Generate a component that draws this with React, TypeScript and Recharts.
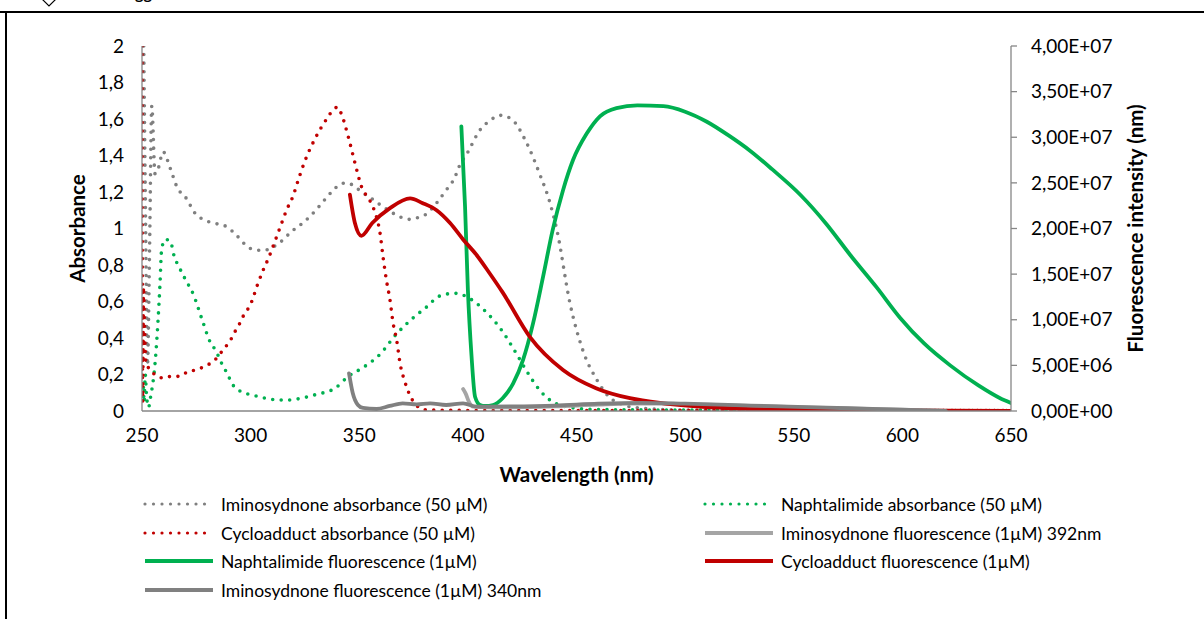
import React from 'react';
import { ComposedChart, Line, XAxis, YAxis, Label } from 'recharts';

// ---------- ticks ----------
const wavelengthTicks = [250, 300, 350, 400, 450, 500, 550, 600, 650];
const absorbanceTicks = [0, 0.2, 0.4, 0.6, 0.8, 1, 1.2, 1.4, 1.6, 1.8, 2];
const fluoTicks = [0, 5e6, 1e7, 1.5e7, 2e7, 2.5e7, 3e7, 3.5e7, 4e7];

// ---------- Iminosydnone absorbance (50 µM) ----------
const iminoAbsX = [250.8, 251.5, 252.5, 253.5, 254.5, 256, 257.5, 259.7, 263, 266, 270.7, 274, 278, 283, 289, 293.7, 300, 305.7, 312, 319.5, 325, 330, 335, 338, 341, 344, 348, 351, 355, 359.6, 363.4, 369.5, 373.4, 377, 381, 385.6, 390, 394, 396, 399.6, 405.6, 410, 415, 420, 427, 433, 437.8, 441, 447, 453, 459.4, 465, 470, 480, 500, 550, 600, 650];
const iminoAbsY = [2.0, 1.2, 0.25, 0.9, 1.67, 1.3, 1.33, 1.42, 1.33, 1.23, 1.16, 1.09, 1.05, 1.03, 1.01, 0.96, 0.89, 0.88, 0.91, 0.99, 1.04, 1.1, 1.17, 1.21, 1.24, 1.25, 1.23, 1.2, 1.17, 1.13, 1.1, 1.06, 1.05, 1.06, 1.08, 1.14, 1.21, 1.28, 1.34, 1.41, 1.54, 1.59, 1.62, 1.6, 1.47, 1.3, 1.14, 0.99, 0.59, 0.33, 0.17, 0.077, 0.04, 0.015, 0.005, 0.003, 0.002, 0.002];

// ---------- Naphtalimide absorbance (50 µM) ----------
const naphAbsX = [250, 250.5, 251, 251.5, 252, 253, 254, 256, 257.4, 258.3, 259, 260.6, 263, 265, 266.6, 270, 273.6, 277.4, 281.3, 284, 286.7, 289, 292, 295, 302, 305.7, 313.5, 317, 321, 330, 339, 345, 352, 359.5, 367, 374.8, 381, 387, 394, 397.8, 404, 409.4, 414.8, 420.8, 427, 433, 439, 443, 450, 460, 500, 550, 600, 650];
const naphAbsY = [0.08, 0.15, 0.05, 0.2, 0.1, 0.02, 0.08, 0.26, 0.5, 0.7, 0.88, 0.94, 0.93, 0.84, 0.8, 0.72, 0.64, 0.51, 0.38, 0.33, 0.26, 0.21, 0.14, 0.11, 0.084, 0.073, 0.06, 0.06, 0.065, 0.09, 0.126, 0.19, 0.24, 0.31, 0.42, 0.51, 0.57, 0.63, 0.645, 0.635, 0.59, 0.53, 0.455, 0.345, 0.22, 0.115, 0.05, 0.03, 0.015, 0.008, 0.005, 0.003, 0.002, 0.002];

// ---------- Cycloadduct absorbance (50 µM) ----------
const cycloAbsX = [250, 250.3, 250.7, 251.2, 251.8, 252.5, 253.7, 255, 257.4, 259.7, 263.6, 267.5, 271, 275, 278, 281.3, 284.4, 286.7, 289, 291.3, 292.8, 295, 296.6, 298.8, 300.5, 302.8, 305.7, 308.5, 311.2, 314, 316.5, 319.6, 321.9, 325, 330, 335, 338, 340, 342, 345, 348, 351, 355, 358, 359.5, 361, 362.6, 364, 365.6, 367.2, 368.8, 371, 374, 378, 382, 400, 450, 500, 550, 600, 650];
const cycloAbsY = [2.0, 0.05, 0.68, 0.45, 0.26, 0.24, 0.235, 0.21, 0.19, 0.18, 0.19, 0.19, 0.215, 0.225, 0.24, 0.26, 0.29, 0.325, 0.36, 0.4, 0.435, 0.48, 0.52, 0.56, 0.6, 0.68, 0.77, 0.845, 0.93, 1.02, 1.1, 1.18, 1.265, 1.37, 1.5, 1.6, 1.65, 1.665, 1.62, 1.5, 1.36, 1.23, 1.15, 1.06, 0.98, 0.84, 0.71, 0.62, 0.48, 0.39, 0.26, 0.16, 0.07, 0.016, 0.005, 0.003, 0.002, 0.002, 0.002, 0.002, 0.002];

// ---------- Iminosydnone fluorescence (1µM) 392nm ----------
const imino392X = [397.8, 399, 400.5, 402.5, 410, 420, 440, 460, 475, 490, 510, 540, 570, 600, 620];
const imino392Y = [2.4e6, 1.9e6, 1.0e6, 4.7e5, 4e5, 4e5, 5e5, 7e5, 8e5, 8e5, 7e5, 5e5, 3e5, 1.5e5, 0];

// ---------- Naphtalimide fluorescence (1µM) ----------
const naphFluoX = [397, 398.7, 400, 401.7, 403.3, 405.6, 408, 411.6, 416, 420.8, 425.4, 430, 434.6, 439, 443.8, 448.4, 454.7, 460.8, 468.4, 478, 490, 500, 510, 520, 530, 540, 553, 565, 576, 588, 599, 610, 622, 635, 645, 650];
const naphFluoY = [3.12e7, 2.24e7, 1.33e7, 5.95e6, 1.57e6, 6.6e5, 5.5e5, 6.6e5, 1.4e6, 3.0e6, 5.6e6, 9.6e6, 1.47e7, 1.98e7, 2.42e7, 2.75e7, 3.04e7, 3.23e7, 3.32e7, 3.35e7, 3.34e7, 3.28e7, 3.17e7, 3.02e7, 2.85e7, 2.65e7, 2.37e7, 2.05e7, 1.71e7, 1.36e7, 1.02e7, 7.4e6, 5.0e6, 2.8e6, 1.4e6, 8.8e5];

// ---------- Cycloadduct fluorescence (1µM) ----------
const cycloFluoX = [345.7, 348, 351, 356, 364, 373.4, 379, 385.6, 391.8, 397.8, 404, 410, 416, 428.6, 443.8, 459, 474.6, 490, 505, 520, 540, 560, 600, 650];
const cycloFluoY = [2.37e7, 2.06e7, 1.92e7, 2.06e7, 2.22e7, 2.33e7, 2.28e7, 2.2e7, 2.06e7, 1.88e7, 1.71e7, 1.51e7, 1.3e7, 8.1e6, 4.5e6, 2.5e6, 1.4e6, 8.4e5, 5e5, 3e5, 1.5e5, 1e5, 5e4, 2e4];

// ---------- Iminosydnone fluorescence (1µM) 340nm ----------
const imino340X = [345.3, 347, 349.4, 351.7, 358, 364, 370, 376.4, 382.6, 390, 397.8, 404, 420, 440, 460, 480, 500, 530, 560, 590, 620];
const imino340Y = [4.13e6, 1.97e6, 6.6e5, 3.3e5, 2.2e5, 5.5e5, 8.4e5, 7.3e5, 8.4e5, 6.6e5, 8.4e5, 4.7e5, 5e5, 6e5, 8e5, 9e5, 8e5, 6e5, 4e5, 2e5, 0];

// ---------- styling ----------
const FONT = 'Lato, "Open Sans", sans-serif';
const AXIS = '#868686';
const C_GRAY_DOT = '#7f7f7f';
const C_GREEN = '#00b050';
const C_RED = '#c00000';
const C_LIGHT = '#a5a5a5';
const C_DARK = '#808080';

const pts = (xs: number[], ys: number[]) => xs.map((x, i) => ({ x, y: ys[i] }));

type S = { name: string; xs: number[]; ys: number[]; axis: 'left' | 'right'; color: string; dotted: boolean; width: number };

const series: S[] = [
  { name: 'Iminosydnone absorbance (50 µM)', xs: iminoAbsX, ys: iminoAbsY, axis: 'left', color: C_GRAY_DOT, dotted: true, width: 3.6 },
  { name: 'Naphtalimide absorbance (50 µM)', xs: naphAbsX, ys: naphAbsY, axis: 'left', color: C_GREEN, dotted: true, width: 3.6 },
  { name: 'Cycloadduct absorbance (50 µM)', xs: cycloAbsX, ys: cycloAbsY, axis: 'left', color: C_RED, dotted: true, width: 3.6 },
  { name: 'Iminosydnone fluorescence (1µM) 392nm', xs: imino392X, ys: imino392Y, axis: 'right', color: C_LIGHT, dotted: false, width: 3.8 },
  { name: 'Naphtalimide fluorescence (1µM)', xs: naphFluoX, ys: naphFluoY, axis: 'right', color: C_GREEN, dotted: false, width: 3.8 },
  { name: 'Cycloadduct fluorescence (1µM)', xs: cycloFluoX, ys: cycloFluoY, axis: 'right', color: C_RED, dotted: false, width: 3.8 },
  { name: 'Iminosydnone fluorescence (1µM) 340nm', xs: imino340X, ys: imino340Y, axis: 'right', color: C_DARK, dotted: false, width: 3.8 },
];

const fmtAbs = (v: number) => String(Math.round(v * 10) / 10).replace('.', ',');
const fmtSci = (v: number) => {
  if (v === 0) return '0,00E+00';
  const e = Math.floor(Math.log10(v) + 1e-9);
  const m = v / Math.pow(10, e);
  return m.toFixed(2).replace('.', ',') + 'E+' + String(e).padStart(2, '0');
};

const tickStyle = { fontFamily: FONT, fontSize: 19, fill: '#000' };
const titleStyle = { fontFamily: FONT, fontSize: 20.5, fontWeight: 700 };

const LegendItem = ({ s, left, top }: { s: S; left: number; top: number }) => (
  <div style={{ position: 'absolute', left, top, height: 28, display: 'flex', alignItems: 'center', whiteSpace: 'nowrap' }}>
    <svg width={74} height={10} style={{ display: 'block' }}>
      <line x1={3} y1={5} x2={71} y2={5} stroke={s.color} strokeWidth={s.dotted ? 3.2 : 3.8}
        strokeDasharray={s.dotted ? '0 8.5' : undefined} strokeLinecap={s.dotted ? 'round' : 'butt'} />
    </svg>
    <span style={{ marginLeft: 5, fontFamily: FONT, fontSize: 17.5, color: '#000' }}>{s.name}</span>
  </div>
);

export default function App() {
  const legendPos = [
    { left: 142, top: 490 }, { left: 702, top: 490 },
    { left: 142, top: 519 }, { left: 702, top: 519 },
    { left: 142, top: 547 }, { left: 702, top: 547 },
    { left: 142, top: 576 },
  ];
  return (
    <div style={{ position: 'absolute', left: 0, top: 0, width: 1204, height: 619, background: '#fff', overflow: 'hidden' }}>
      <svg width={1204} height={619} style={{ position: 'absolute', left: 0, top: 0 }}>
        <rect x={0} y={11} width={1204} height={2} fill="#000" />
        <rect x={5} y={11} width={2} height={608} fill="#000" />
        <polygon points="49,-30 67,-12 49,6 31,-12" fill="none" stroke="#000" strokeWidth={1.2} />
        <text x={135} y={-1} style={{ fontFamily: FONT, fontSize: 16, fontWeight: 700 }}>gg</text>
      </svg>
      <div style={{ position: 'absolute', left: 0, top: 0 }}>
        <ComposedChart width={1204} height={619} margin={{ top: 46, right: 63, left: 82, bottom: 148 }}>
          <XAxis dataKey="x" type="number" domain={[250, 650]} ticks={wavelengthTicks} allowDataOverflow
            stroke={AXIS} tickLine={false} tickSize={6} tickMargin={12} tick={tickStyle} height={60}
            axisLine={{ stroke: AXIS, strokeWidth: 1.3 }}>
            <Label content={({ viewBox }: any) => (
              <text x={viewBox.x + viewBox.width / 2} y={viewBox.y + 63} textAnchor="middle" dominantBaseline="central"
                style={titleStyle} fill="#000">Wavelength (nm)</text>
            )} />
          </XAxis>
          <YAxis yAxisId="left" domain={[0, 2]} ticks={absorbanceTicks} allowDataOverflow width={60}
            tickFormatter={fmtAbs} tickLine={false} tickSize={6} tickMargin={12} tick={tickStyle}
            axisLine={{ stroke: AXIS, strokeWidth: 1.3 }}>
            <Label content={({ viewBox }: any) => {
              const cx = viewBox.x - 5;
              const cy = viewBox.y + viewBox.height / 2;
              return (
                <text x={cx} y={cy} transform={`rotate(-90 ${cx} ${cy})`} textAnchor="middle" dominantBaseline="central"
                  style={titleStyle} fill="#000">Absorbance</text>
              );
            }} />
          </YAxis>
          <YAxis yAxisId="right" orientation="right" domain={[0, 4e7]} ticks={fluoTicks} allowDataOverflow width={130}
            tickFormatter={fmtSci} tickSize={6} tickMargin={14} tick={tickStyle}
            tickLine={{ stroke: AXIS, strokeWidth: 1.3 }}
            axisLine={{ stroke: AXIS, strokeWidth: 1.3 }}>
            <Label content={({ viewBox }: any) => {
              const cx = viewBox.x + 124;
              const cy = viewBox.y + viewBox.height / 2;
              return (
                <text x={cx} y={cy} transform={`rotate(-90 ${cx} ${cy})`} textAnchor="middle" dominantBaseline="central"
                  style={titleStyle} fill="#000">Fluorescence intensity (nm)</text>
              );
            }} />
          </YAxis>
          {series.map((s) => (
            <Line key={s.name} data={pts(s.xs, s.ys)} dataKey="y" yAxisId={s.axis} type="monotone"
              stroke={s.color} strokeWidth={s.width} dot={false} activeDot={false} isAnimationActive={false}
              strokeDasharray={s.dotted ? '0 8.5' : undefined} strokeLinecap="round" strokeLinejoin="round" />
          ))}
        </ComposedChart>
      </div>
      {series.map((s, i) => (
        <LegendItem key={s.name} s={s} left={legendPos[i].left} top={legendPos[i].top} />
      ))}
    </div>
  );
}
